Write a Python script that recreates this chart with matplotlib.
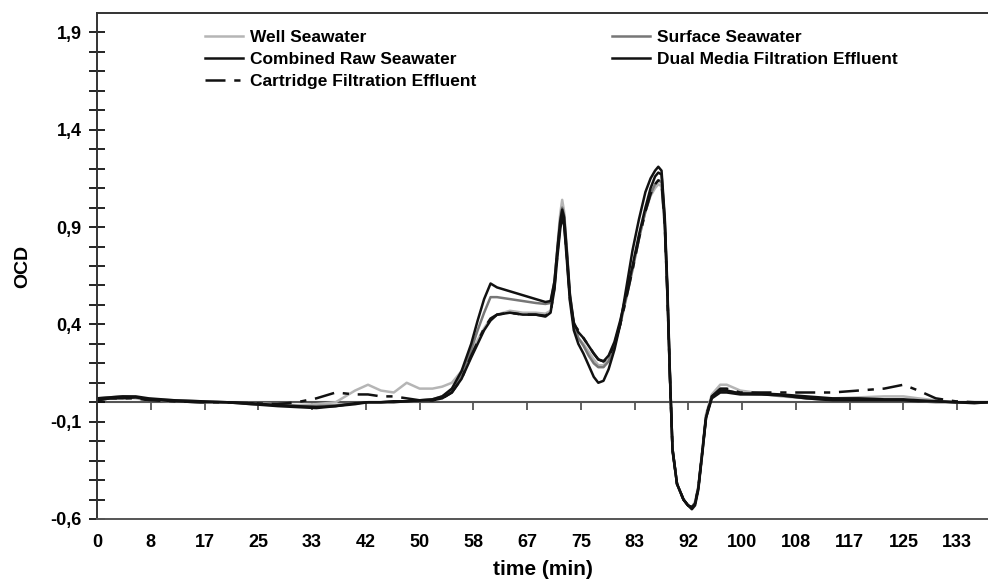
import numpy as np
import matplotlib
matplotlib.use('Agg')
import matplotlib.pyplot as plt

plt.rcParams['font.family'] = ['Liberation Sans', 'DejaVu Sans']
plt.rcParams['font.weight'] = 'bold'

# time (min), shared by all five traces
time_min = [0, 2, 4, 6, 8, 12, 16, 20, 24, 28,
            31, 34, 37, 40, 42, 44, 46, 48, 50, 52,
            53.5, 55, 56.5, 58, 59, 60, 61, 62, 64, 66,
            68, 69.5, 70.3, 70.9, 71.4, 71.8, 72.1, 72.4, 72.8, 73.3,
            73.9, 74.6, 75.4, 76.2, 77.0, 77.7, 78.5, 79.3, 80.2, 81.1,
            82.0, 83.0, 84.0, 85.0, 85.8, 86.5, 87.0, 87.5, 88.0, 88.4,
            88.8, 89.2, 89.9, 90.9, 91.6, 92.2, 92.7, 93.2, 93.8, 94.4,
            95.3, 96.6, 97.6, 99.7, 103, 106, 110, 114, 118, 122,
            125, 127.3, 130, 133, 136, 138]

well = [0.015, 0.02, 0.025, 0.02, 0.01, 0.005, 0.0, 0.0, -0.005, -0.01,
        -0.015, -0.01, 0.0, 0.06, 0.09, 0.06, 0.05, 0.1, 0.07, 0.07,
        0.08, 0.1, 0.16, 0.25, 0.32, 0.38, 0.43, 0.45, 0.47, 0.46,
        0.46, 0.455, 0.47, 0.6, 0.82, 0.97, 1.04, 0.98, 0.8, 0.56,
        0.4, 0.33, 0.3, 0.26, 0.22, 0.19, 0.19, 0.22, 0.3, 0.41,
        0.54, 0.69, 0.85, 0.98, 1.06, 1.1, 1.12, 1.11, 0.9, 0.55,
        0.13, -0.24, -0.42, -0.5, -0.53, -0.54, -0.51, -0.43, -0.25, -0.06,
        0.04, 0.09, 0.09, 0.06, 0.045, 0.03, 0.02, 0.02, 0.025, 0.03,
        0.03, 0.02, 0.01, 0.0, 0.0, 0.0]

surface = [0.02, 0.025, 0.03, 0.025, 0.015, 0.01, 0.005, 0.0, -0.01, -0.015,
           -0.02, -0.02, -0.015, -0.005, 0.0, 0.0, 0.005, 0.005, 0.01, 0.015,
           0.03, 0.06, 0.14, 0.27, 0.37, 0.46, 0.54, 0.54, 0.53, 0.52,
           0.51, 0.505, 0.51, 0.62, 0.8, 0.94, 1.0, 0.96, 0.79, 0.55,
           0.4, 0.33, 0.29, 0.24, 0.2, 0.18, 0.18, 0.21, 0.29, 0.4,
           0.53, 0.68, 0.84, 0.98, 1.07, 1.12, 1.14, 1.13, 0.91, 0.56,
           0.13, -0.24, -0.42, -0.5, -0.53, -0.54, -0.52, -0.44, -0.26, -0.07,
           0.03, 0.06, 0.06, 0.045, 0.04, 0.035, 0.02, 0.01, 0.01, 0.01,
           0.01, 0.005, 0.0, 0.0, 0.0, 0.0]

combined = [0.02, 0.025, 0.03, 0.03, 0.02, 0.01, 0.005, 0.0, -0.005, -0.015,
            -0.02, -0.025, -0.02, -0.005, 0.0, 0.0, 0.005, 0.005, 0.01, 0.015,
            0.03, 0.07, 0.16, 0.3, 0.42, 0.53, 0.61, 0.59, 0.57, 0.55,
            0.53, 0.515, 0.52, 0.62, 0.8, 0.93, 0.99, 0.95, 0.78, 0.55,
            0.41, 0.36, 0.33, 0.29, 0.25, 0.22, 0.21, 0.24, 0.31, 0.42,
            0.55, 0.7, 0.86, 1.0, 1.1, 1.16, 1.18, 1.17, 0.93, 0.57,
            0.14, -0.24, -0.42, -0.5, -0.53, -0.54, -0.52, -0.44, -0.26, -0.08,
            0.03, 0.06, 0.06, 0.045, 0.045, 0.04, 0.03, 0.02, 0.02, 0.015,
            0.015, 0.01, 0.005, 0.0, 0.0, 0.0]

dual_media = [0.01, 0.02, 0.02, 0.025, 0.015, 0.005, 0.0, 0.0, -0.01, -0.02,
              -0.025, -0.03, -0.02, -0.01, 0.0, 0.0, 0.0, 0.005, 0.01, 0.01,
              0.02, 0.05, 0.12, 0.23, 0.3, 0.37, 0.42, 0.45, 0.46, 0.45,
              0.45, 0.44, 0.46, 0.58, 0.76, 0.89, 0.95, 0.91, 0.74, 0.52,
              0.37, 0.3, 0.25, 0.19, 0.13, 0.10, 0.11, 0.17, 0.27, 0.4,
              0.58, 0.78, 0.94, 1.08, 1.15, 1.19, 1.21, 1.19, 0.95, 0.6,
              0.15, -0.25, -0.42, -0.5, -0.53, -0.55, -0.53, -0.45, -0.27, -0.08,
              0.02, 0.05, 0.05, 0.04, 0.04, 0.035, 0.02, 0.01, 0.01, 0.01,
              0.01, 0.005, 0.005, 0.0, -0.005, 0.0]

cartridge = [0.01, 0.02, 0.02, 0.02, 0.01, 0.005, 0.0, 0.0, -0.005, -0.01,
             0.0, 0.02, 0.05, 0.04, 0.04, 0.03, 0.03, 0.02, 0.01, 0.01,
             0.02, 0.05, 0.12, 0.24, 0.31, 0.38, 0.43, 0.45, 0.46, 0.45,
             0.45, 0.445, 0.46, 0.59, 0.78, 0.91, 0.96, 0.92, 0.76, 0.53,
             0.4, 0.37, 0.33, 0.29, 0.25, 0.22, 0.21, 0.23, 0.3, 0.4,
             0.53, 0.68, 0.84, 0.98, 1.07, 1.12, 1.14, 1.13, 0.91, 0.56,
             0.13, -0.24, -0.42, -0.5, -0.53, -0.54, -0.52, -0.44, -0.26, -0.07,
             0.03, 0.07, 0.07, 0.05, 0.05, 0.05, 0.05, 0.05, 0.06, 0.07,
             0.09, 0.06, 0.02, 0.005, 0.0, 0.0]

x_ticks = np.arange(17) * 25 / 3
x_labels = ['0', '8', '17', '25', '33', '42', '50', '58', '67', '75',
            '83', '92', '100', '108', '117', '125', '133']
y_ticks = [-0.6, -0.1, 0.4, 0.9, 1.4, 1.9]
y_labels = ['-0,6', '-0,1', '0,4', '0,9', '1,4', '1,9']

fig = plt.figure(figsize=(9.88, 5.85), dpi=100)
ax = fig.add_axes([97/988, 1 - 519/585, (988 - 97)/988, (519 - 13)/585])

l_well, = ax.plot(time_min, well, color='#b5b5b5', lw=1.8, label='Well Seawater')
l_surf, = ax.plot(time_min, surface, color='#777777', lw=1.8, label='Surface Seawater')
l_comb, = ax.plot(time_min, combined, color='#111111', lw=1.8, label='Combined Raw Seawater')
l_dual, = ax.plot(time_min, dual_media, color='#111111', lw=1.8, label='Dual Media Filtration Effluent')
l_cart, = ax.plot(time_min, cartridge, color='#111111', lw=1.8, dashes=(8, 3.5, 2.5, 3.5),
                  label='Cartridge Filtration Effluent')

ax.set_xlim(0, 138.1)
ax.set_ylim(-0.6, 2.0)

ax.set_xticks(x_ticks, x_labels)
ax.tick_params(axis='x', length=0, pad=11, labelsize=13)

ax.set_yticks(y_ticks, y_labels)
ax.set_yticks(np.arange(-0.5, 1.95, 0.1), minor=True)
ax.tick_params(axis='y', which='both', direction='inout', length=12, width=1.2,
               pad=5, labelsize=13)

for side in ['left', 'top', 'bottom']:
    ax.spines[side].set_linewidth(1.4)
ax.spines['left'].set_color('#333333')
ax.spines['top'].set_color('#333333')
ax.spines['bottom'].set_color('#555555')
ax.spines['right'].set_visible(False)

# zero line carrying the time ticks
sec = ax.secondary_xaxis(0.6 / 2.6)
sec.set_xticks(x_ticks)
sec.tick_params(axis='x', direction='out', length=6, width=1.3, color='#555555',
                labelbottom=False, labeltop=False)
sec.spines['bottom'].set_color('#555555')
sec.spines['bottom'].set_linewidth(1.5)

ax.set_xlabel('time (min)', fontsize=15, fontweight='bold', labelpad=6)
ax.set_ylabel('OCD', fontsize=14, fontweight='bold', labelpad=14)

ax.legend(handles=[l_well, l_comb, l_cart, l_surf, l_dual], ncol=2,
          loc='upper left', bbox_to_anchor=(205/988, 1 - 30/585),
          bbox_transform=fig.transFigure, frameon=False, fontsize=12.5,
          borderpad=0, borderaxespad=0, handlelength=2.2, handletextpad=0.4,
          columnspacing=7.8, labelspacing=0.4)

fig.savefig('out.png', dpi=100)
